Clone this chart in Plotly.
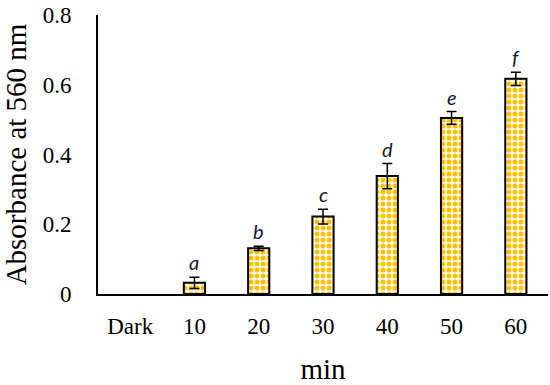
import plotly.graph_objects as go

categories = ["Dark", "10", "20", "30", "40", "50", "60"]
absorbance = [0.0, 0.032, 0.131, 0.222, 0.338, 0.505, 0.617]
errors = [0.0, 0.016, 0.006, 0.021, 0.036, 0.018, 0.019]
letters = ["", "a", "b", "c", "d", "e", "f"]
y_ticks = [0, 0.2, 0.4, 0.6, 0.8]
y_tick_text = ["0", "0.2", "0.4", "0.6", "0.8"]

bar_y = [v if v > 0 else None for v in absorbance]
err_shown = [e if e > 0 else None for e in errors]

fig = go.Figure()
fig.add_trace(go.Bar(
    x=categories, y=bar_y,
    marker=dict(
        color="white",
        line=dict(color="black", width=2),
        pattern=dict(shape=".", fgcolor="#FFC000", bgcolor="white",
                     size=6, solidity=0.55, fillmode="overlay", fgopacity=1),
    ),
    error_y=dict(type="data", array=err_shown, visible=True,
                 color="black", thickness=1.5, width=5),
    width=0.33,
    showlegend=False,
))

for i, (v, e, t) in enumerate(zip(absorbance, errors, letters)):
    if t:
        fig.add_annotation(
            x=i, y=v + e, text=t, showarrow=False,
            yanchor="bottom", yshift=1,
            font=dict(family="Lato, Open Sans, sans-serif", size=20,
                      color="#0f1a33", style="italic"),
        )

serif = "Liberation Serif, Times New Roman, serif"
fig.update_layout(
    width=550, height=385,
    margin=dict(l=98, r=2, t=15, b=91),
    paper_bgcolor="white", plot_bgcolor="white",
    font=dict(family=serif, color="black"),
    bargap=0.67,
)
fig.update_xaxes(
    type="category", categoryorder="array", categoryarray=categories,
    range=[-0.5, len(categories) - 0.5], tickangle=0,
    showline=True, linecolor="black", linewidth=2,
    showgrid=False, ticks="", ticklabelstandoff=10,
    tickfont=dict(family=serif, size=23, color="black"),
    title=dict(text="min", font=dict(family=serif, size=29, color="black"), standoff=23),
    automargin=False,
)
fig.update_yaxes(
    range=[0, 0.8], tickvals=y_ticks, ticktext=y_tick_text,
    showline=True, linecolor="black", linewidth=2,
    showgrid=False, zeroline=False, ticks="", ticklabelstandoff=20,
    tickfont=dict(family=serif, size=23, color="black"),
    title=dict(text="Absorbance at 560 nm", font=dict(family=serif, size=29, color="black"), standoff=28),
    automargin=False,
)

fig.write_html("out.html", config={"displayModeBar": False},
               post_script="document.body.style.margin='0';document.body.style.padding='0';")
